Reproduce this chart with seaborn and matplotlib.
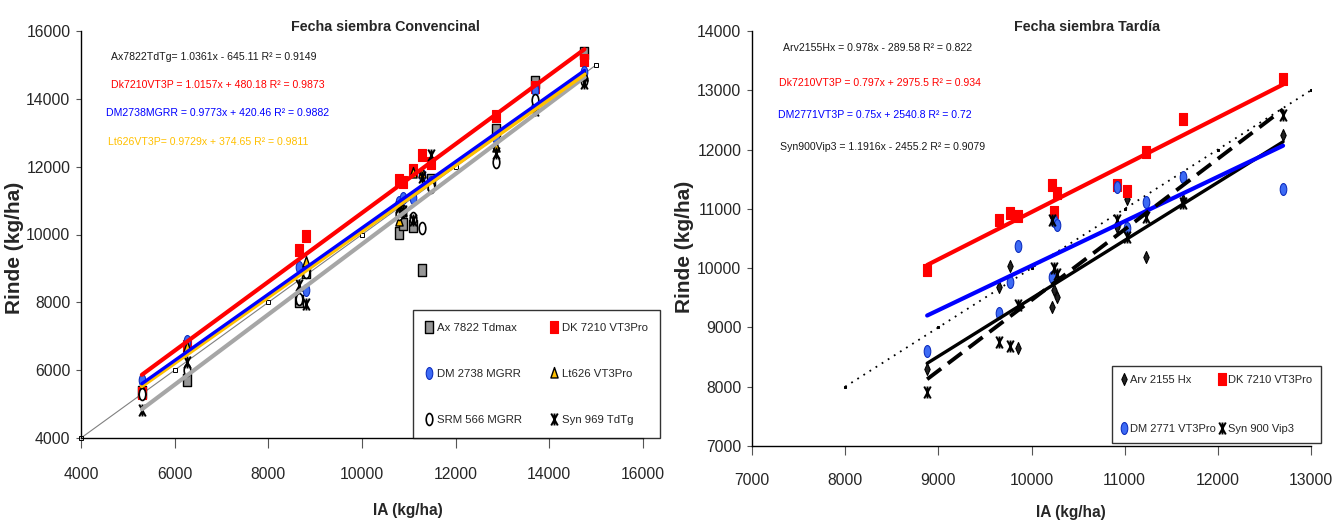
import numpy as np
import pandas as pd
import matplotlib
matplotlib.use("Agg")
import matplotlib.pyplot as plt
import seaborn as sns
from matplotlib.path import Path
from matplotlib.transforms import Affine2D
from matplotlib.lines import Line2D

# ---------------- data: Fecha siembra Convencional ----------------
conv_ia = [5300, 6270, 8650, 8800, 10800, 10870, 11090, 11280, 11480, 12860, 13700, 14750]
conv_ax7822 = [5350, 5710, 8050, 8900, 10040, 10300, 10250, 8960, 11600, 13090, 14510, 15350]
conv_dk7210 = [5330, 6700, 9550, 9950, 11610, 11560, 11900, 12350, 12100, 13480, 14360, 15150]
conv_dm2738 = [5710, 6870, 9050, 8370, 10950, 11070, 11070, 11750, 11550, 12850, 14270, 14800]
conv_lt626 = [5420, 6690, 8100, 9200, 10390, 10700, 11820, 11820, 11460, 12590, 13820, 14660]
conv_srm566 = [5300, 6000, 8100, 8900, 10600, 10700, 10500, 10190, 11400, 12150, 13970, 14550]
conv_syn969 = [4830, 6250, 8510, 7950, 10800, 10700, 10430, 11700, 12350, 12400, 13680, 14470]
conv_one_to_one = [4000, 6000, 8000, 10000, 12000, 15000]

conv_eq_slope = [1.0361, 1.0157, 0.9773, 0.9729]
conv_eq_int = [-645.11, 480.18, 420.46, 374.65]
conv_eq_text = ["Ax7822TdTg= 1.0361x - 645.11 R² = 0.9149",
                "Dk7210VT3P = 1.0157x + 480.18 R² = 0.9873",
                "DM2738MGRR = 0.9773x + 420.46 R² = 0.9882",
                "Lt626VT3P= 0.9729x + 374.65 R² = 0.9811"]
conv_legend = ["Ax 7822 Tdmax", "DK 7210 VT3Pro", "DM 2738 MGRR",
               "Lt626 VT3Pro", "SRM 566 MGRR", "Syn 969 TdTg"]

# ---------------- data: Fecha siembra Tardía ----------------
tard_ia = [8880, 9650, 9770, 9850, 10220, 10240, 10270, 10915, 11025, 11230, 11630, 12700]
tard_arv2155 = [8300, 9690, 10035, 8660, 9350, 9630, 9520, 10700, 11170, 10190, 11150, 12245]
tard_dk7210 = [9968, 10810, 10924, 10880, 11401, 10951, 11261, 11401, 11305, 11963, 12514, 13184]
tard_dm2771 = [8607, 9248, 9770, 10373, 9855, 10800, 10727, 11373, 10680, 11120, 11541, 11329]
tard_syn900 = [7915, 8760, 8690, 9378, 10810, 9997, 9900, 10810, 10530, 10867, 11100, 12582]
tard_one_to_one = [8000, 9000, 10000, 11000, 12000, 13000]

tard_eq_slope = [0.978, 0.797, 0.75, 1.1916]
tard_eq_int = [-289.58, 2975.5, 2540.8, -2455.2]
tard_eq_text = ["Arv2155Hx = 0.978x - 289.58 R² = 0.822",
                "Dk7210VT3P = 0.797x + 2975.5 R² = 0.934",
                "DM2771VT3P = 0.75x + 2540.8 R² = 0.72",
                "Syn900Vip3 = 1.1916x - 2455.2 R² = 0.9079"]
tard_legend = ["Arv 2155 Hx", "DK 7210 VT3Pro", "DM 2771 VT3Pro", "Syn 900 Vip3"]

# ---------------- style ----------------
sns.set_theme(style="white")
FONT = ["Liberation Sans", "DejaVu Sans"]
plt.rcParams["font.family"] = FONT

W, H = 1333, 522
fig = plt.figure(figsize=(W / 100, H / 100), dpi=100)


def fx(px):
    return px / W


def fy(py):
    return 1 - py / H


# markers (horizontally compressed like the reference)
def rect(w, h):
    return Path([(-w / 2, -h / 2), (w / 2, -h / 2), (w / 2, h / 2), (-w / 2, h / 2), (-w / 2, -h / 2)],
                [Path.MOVETO, Path.LINETO, Path.LINETO, Path.LINETO, Path.CLOSEPOLY])


M_SQ = rect(0.62, 1.0)
M_CIRC = Path.unit_circle().transformed(Affine2D().scale(0.55, 1.0))
M_TRI = Path([(0, 1), (-0.6, -0.75), (0.6, -0.75), (0, 1)],
             [Path.MOVETO, Path.LINETO, Path.LINETO, Path.CLOSEPOLY])
M_DIA = Path([(0, 1), (0.45, 0), (0, -1), (-0.45, 0), (0, 1)],
             [Path.MOVETO, Path.LINETO, Path.LINETO, Path.LINETO, Path.CLOSEPOLY])
M_STAR = Path([(-0.55, -1), (0.55, 1), (-0.55, 1), (0.55, -1), (0, -1), (0, 1)],
              [Path.MOVETO, Path.LINETO, Path.MOVETO, Path.LINETO, Path.MOVETO, Path.LINETO])

MS = 74  # scatter size (pt^2)

RED = "#FF0000"
BLUE_LINE = "#0000FF"
BLUE_FACE = "#3D6BF5"
BLUE_EDGE = "#1030C0"
YEL = "#FFC000"
GREY_LINE = "#A6A6A6"
GREY_FACE = "#969696"

TICK_FS = 11.3

# ======================= LEFT PANEL =======================
ax1 = fig.add_axes([fx(81), fy(438), fx(643 - 81), (438 - 31) / H])

sns.lineplot(x=conv_one_to_one, y=conv_one_to_one, ax=ax1, color="#808080", lw=0.8,
             marker="s", markersize=3.2, markerfacecolor="white", markeredgecolor="black",
             markeredgewidth=0.7, zorder=2, clip_on=False)

conv_series = [
    (conv_ax7822, M_SQ, GREY_FACE, "black", 1.0),
    (conv_dk7210, M_SQ, RED, RED, 0.8),
    (conv_dm2738, M_CIRC, BLUE_FACE, BLUE_EDGE, 0.8),
    (conv_lt626, M_TRI, YEL, "black", 1.0),
    (conv_srm566, M_CIRC, "white", "black", 1.2),
    (conv_syn969, M_STAR, "black", "black", 1.4),
]
for vals, mk, fc, ec, lw in conv_series:
    sns.scatterplot(x=conv_ia, y=vals, ax=ax1, marker=mk, s=MS, color=fc,
                    edgecolor=ec, linewidth=lw, zorder=3)

conv_line_colors = [GREY_LINE, RED, BLUE_LINE, YEL]
conv_line_widths = [3.0, 3.0, 2.4, 3.0]
conv_line_order = [0, 3, 2, 1]
xr = np.array([min(conv_ia), max(conv_ia)], dtype=float)
for i in conv_line_order:
    sns.lineplot(x=xr, y=conv_eq_slope[i] * xr + conv_eq_int[i], ax=ax1,
                 color=conv_line_colors[i], lw=conv_line_widths[i], zorder=4)

ax1.set_xlim(4000, 16000)
ax1.set_ylim(4000, 16000)
ax1.set_xticks(np.arange(4000, 16001, 2000))
ax1.set_yticks(np.arange(4000, 16001, 2000))

# ======================= RIGHT PANEL =======================
ax2 = fig.add_axes([fx(752), fy(446), fx(1311 - 752), (446 - 31) / H])

sns.lineplot(x=tard_one_to_one, y=tard_one_to_one, ax=ax2, color="black", lw=1.3,
             linestyle=(0, (1, 3)), marker="s", markersize=1.6, markerfacecolor="black",
             markeredgecolor="black", zorder=2)

tard_series = [
    (tard_arv2155, M_DIA, "#222222", "black", 0.8),
    (tard_dk7210, M_SQ, RED, RED, 0.8),
    (tard_dm2771, M_CIRC, BLUE_FACE, BLUE_EDGE, 0.8),
    (tard_syn900, M_STAR, "black", "black", 1.4),
]
for vals, mk, fc, ec, lw in tard_series:
    sns.scatterplot(x=tard_ia, y=vals, ax=ax2, marker=mk, s=MS, color=fc,
                    edgecolor=ec, linewidth=lw, zorder=3)

xr2 = np.array([min(tard_ia), max(tard_ia)], dtype=float)
tard_line_colors = ["black", RED, BLUE_LINE, "black"]
tard_line_widths = [2.4, 3.0, 3.0, 2.8]
tard_line_styles = ["-", "-", "-", (0, (4.5, 2.2))]
for i in range(4):
    sns.lineplot(x=xr2, y=tard_eq_slope[i] * xr2 + tard_eq_int[i], ax=ax2,
                 color=tard_line_colors[i], lw=tard_line_widths[i],
                 linestyle=tard_line_styles[i], zorder=4)

ax2.set_xlim(7000, 13000)
ax2.set_ylim(7000, 14000)
ax2.set_xticks(np.arange(7000, 13001, 1000))
ax2.set_yticks(np.arange(7000, 14001, 1000))

# ======================= axes styling =======================
for ax, xlen, xpad in [(ax1, 7.2, 13.5), (ax2, 6.5, 13.0)]:
    for s in ["top", "right"]:
        ax.spines[s].set_visible(False)
    for s in ["left", "bottom"]:
        ax.spines[s].set_color("black")
        ax.spines[s].set_linewidth(1.0)
    ax.set_xlabel("")
    ax.set_ylabel("")
    ax.tick_params(axis="x", direction="out", length=xlen, width=0.8, color="#555555",
                   pad=xpad, labelsize=TICK_FS, bottom=True)
    ax.tick_params(axis="y", direction="out", length=3.6, width=0.8, color="#555555",
                   pad=4.0, labelsize=TICK_FS, left=True)
    ax.grid(False)
    ax.patch.set_alpha(0)

# titles, axis labels
fig.text(fx(385), fy(27), "Fecha siembra Convencinal", ha="center", va="center",
         fontsize=10.3, fontweight="bold")
fig.text(fx(1087), fy(27), "Fecha siembra Tardía", ha="center", va="center",
         fontsize=10.3, fontweight="bold")
fig.text(fx(408), fy(511), "IA (kg/ha)", ha="center", va="center",
         fontsize=11.2, fontweight="bold")
fig.text(fx(1071), fy(512), "IA (kg/ha)", ha="center", va="center",
         fontsize=11.2, fontweight="bold")
fig.text(fx(15), fy(248), "Rinde (kg/ha)", ha="center", va="center", rotation=90,
         fontsize=15, fontweight="bold")
fig.text(fx(684), fy(247), "Rinde (kg/ha)", ha="center", va="center", rotation=90,
         fontsize=15, fontweight="bold")

# equations
conv_eq_colors = ["#1a1a1a", RED, BLUE_LINE, "#FFC000"]
conv_eq_pos = [(111, 57), (111, 85), (106, 113), (108, 142)]
for t, c, (px, py) in zip(conv_eq_text, conv_eq_colors, conv_eq_pos):
    fig.text(fx(px), fy(py), t, ha="left", va="center", fontsize=7.6, color=c)

tard_eq_colors = ["#1a1a1a", RED, BLUE_LINE, "#1a1a1a"]
tard_eq_pos = [(783, 48), (779, 83), (778, 115), (780, 147)]
for t, c, (px, py) in zip(tard_eq_text, tard_eq_colors, tard_eq_pos):
    fig.text(fx(px), fy(py), t, ha="left", va="center", fontsize=7.6, color=c)


# legends
def handle(mk, fc, ec, lw):
    return Line2D([], [], linestyle="none", marker=mk, markersize=8.6,
                  markerfacecolor=fc, markeredgecolor=ec, markeredgewidth=lw)


conv_handles = [handle(mk, fc, ec, lw) for _, mk, fc, ec, lw in conv_series]
order = [0, 2, 4, 1, 3, 5]
leg1 = ax1.legend([conv_handles[i] for i in order], [conv_legend[i] for i in order],
                  ncol=2, loc="lower left", bbox_to_anchor=(fx(413), fy(438)),
                  bbox_transform=fig.transFigure, frameon=True, fancybox=False,
                  edgecolor="black", handlelength=0.6, handletextpad=0.4,
                  columnspacing=2.5, labelspacing=3.2, borderpad=1.1, borderaxespad=0,
                  prop={"size": 8.2})
leg1.get_frame().set_linewidth(1.0)
leg1.set_zorder(10)

tard_handles = [handle(mk, fc, ec, lw) for _, mk, fc, ec, lw in tard_series]
order2 = [0, 2, 1, 3]
leg2 = ax2.legend([tard_handles[i] for i in order2], [tard_legend[i] for i in order2],
                  ncol=2, loc="lower right", bbox_to_anchor=(fx(1321), fy(443)),
                  bbox_transform=fig.transFigure, frameon=True, fancybox=False,
                  edgecolor="black", handlelength=0.5, handletextpad=0.3,
                  columnspacing=0.3, labelspacing=3.5, borderpad=0.8, borderaxespad=0,
                  prop={"size": 8.0})
leg2.get_frame().set_linewidth(1.0)
leg2.set_zorder(10)

fig.savefig("out.png", dpi=100, facecolor="white")
